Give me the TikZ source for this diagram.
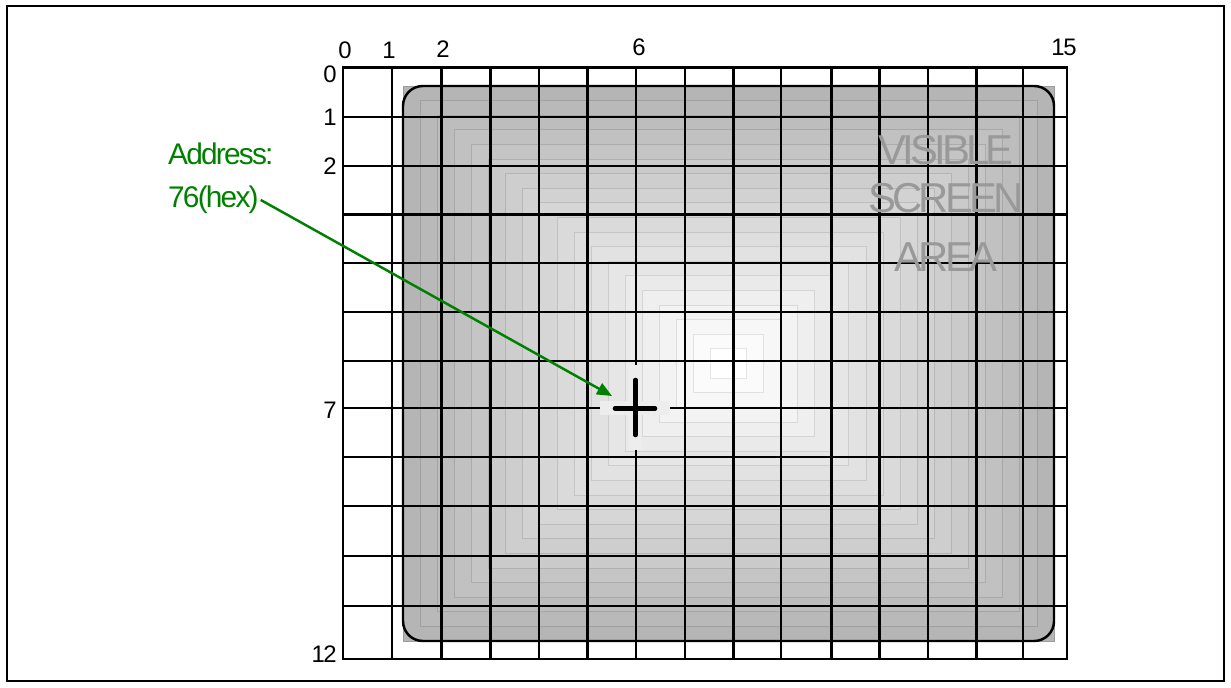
\documentclass[tikz,border=0pt]{standalone}
\usepackage{fontspec}
\setmainfont{Liberation Sans}
\newfontfamily\tightfont[LetterSpace=-6]{Liberation Sans}
\newfontfamily\screenfont[LetterSpace=-9]{Liberation Sans}
\usepackage{tikz}
\usetikzlibrary{arrows.meta}
\definecolor{addrgreen}{RGB}{0,128,0}
\definecolor{screengray}{RGB}{153,153,153}

\begin{document}
\begin{tikzpicture}[x=0.02cm,y=-0.02cm,
  gridline/.style={line width=1.3pt},
  numlabel/.style={font=\tightfont\fontsize{13.6}{15}\selectfont, inner sep=0pt},
  addrtext/.style={font=\tightfont\fontsize{17}{20}\selectfont, text=addrgreen, inner sep=1pt},
  screentext/.style={font=\screenfont\fontsize{23.8}{26}\selectfont, text=screengray, inner sep=0pt}]
\useasboundingbox (0,0) rectangle (1231,688);
\draw[line width=1.2pt] (7,6) rectangle (1224,681);

% shaded screen, stepped from the edge to the centre
\foreach \k in {0,...,18}{
  \pgfmathsetmacro{\hw}{325.5-17.1*\k}
  \pgfmathsetmacro{\hh}{277.5-14.6*\k}
  \pgfmathsetmacro{\shade}{29*(1-\k/18)}
  \pgfmathsetmacro{\edge}{\shade+10}
  \filldraw[fill=black!\shade, draw=black!\edge, line width=0.4pt]
    (728.5-\hw,363.5-\hh) rectangle (728.5+\hw,363.5+\hh);
}
\draw[line width=1.4pt, rounded corners=11.3pt] (403,86) rectangle (1054,641);

% character grid
\def\colpos{343,392,441.5,490.5,539,587.5,636,685,733.5,781,831.5,879.5,928,976.5,1023,1067}
\def\rowpos{67.7,116.7,166,214.5,263.3,311.7,360.7,408.3,457,506,556,605.7,659}
\foreach \x in \colpos \draw[gridline] (\x,67.7) -- (\x,659);
\foreach \y in \rowpos \draw[gridline] (343,\y) -- (1067,\y);
\draw[line width=1.6pt] (343,67.7) rectangle (1067,659);

\node[numlabel] (col0) at (345,50) {0};
\node[numlabel] (col1) at (389,50) {1};
\node[numlabel] (col2) at (443,49.5) {2};
\node[numlabel] (col6) at (639,47) {6};
\node[numlabel] (col15) at (1064,47) {15};
\node[numlabel, anchor=east] (row0) at (337,74) {0};
\node[numlabel, anchor=east] (row1) at (337,117) {1};
\node[numlabel, anchor=east] (row2) at (337,166) {2};
\node[numlabel, anchor=east] (row7) at (337,410) {7};
\node[numlabel, anchor=east] (row12) at (337,654) {12};

% cursor at column 6, row 7
\fill[black!7] (600,401.5) rectangle (670,415.5);
\fill[black!7] (629,365) rectangle (642,450);
\draw[line width=2.6pt, line cap=round] (615,408.5) -- (655,408.5);
\draw[line width=2.6pt, line cap=round] (635.5,380) -- (635.5,435);
\coordinate (tip) at (612,396);

\node[addrtext, anchor=base west] (addr) at (166,165) {Address:};
\node[addrtext, anchor=base west] (hex) at (166,207.7) {76(hex)};
\draw[addrgreen, line width=1.4pt, -{Triangle[length=8.5pt,width=7pt]}] (hex.east) -- (tip);

\node[screentext, anchor=base] (vis) at (946,165) {VISIBLE};
\node[screentext, anchor=base] (scr) at (946,213) {SCREEN};
\node[screentext, anchor=base] (area) at (946,272) {AREA};
\end{tikzpicture}
\end{document}
